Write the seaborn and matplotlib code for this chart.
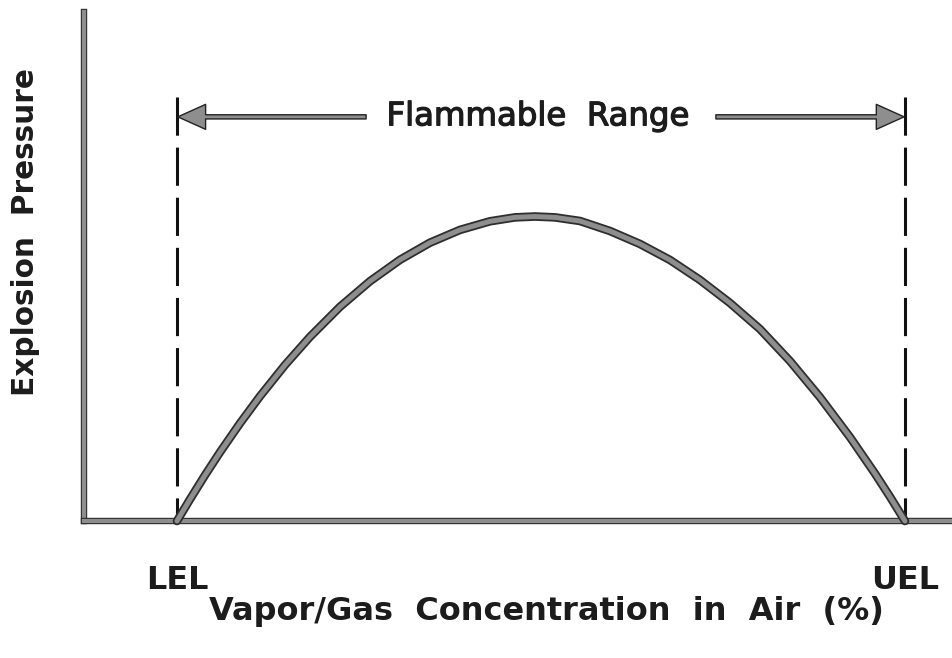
import matplotlib
matplotlib.use("Agg")
import matplotlib.pyplot as plt
import matplotlib.patheffects as pe
import pandas as pd
import seaborn as sns

# Values (axis spans 0-100 in both directions)
concentration = [10.71, 12.21, 13.94, 15.67, 17.97, 20.28, 23.16, 26.04, 29.49, 32.95,
                 36.41, 39.86, 43.32, 46.77, 49.65, 51.96, 54.26, 57.14, 60.60, 64.06,
                 67.51, 70.97, 74.42, 77.88, 81.34, 84.79, 88.25, 91.13, 92.86, 94.58]
pressure = [0.0, 4.26, 9.00, 13.52, 19.19, 24.52, 30.65, 36.19, 42.08, 47.11,
            51.32, 54.68, 57.19, 58.88, 59.65, 59.82, 59.65, 58.94, 56.97, 54.42,
            51.28, 47.35, 42.83, 37.70, 31.41, 24.32, 16.46, 9.31, 4.75, 0.0]
limits = [10.71, 94.58]
limit_labels = ["LEL", "UEL"]
range_label = "Flammable  Range"
x_label = "Vapor/Gas  Concentration  in  Air  (%)"
y_label = "Explosion  Pressure"

df = pd.DataFrame({"conc": concentration, "pressure": pressure})

sns.set_style("white")
INK = "#1c1c1c"
FILL = "#8e8e8e"
outline = [pe.Stroke(linewidth=6.2, foreground="#2e2e2e"), pe.Normal()]

fig = plt.figure(figsize=(9.52, 6.58), dpi=100)
ax = fig.add_axes([84 / 952, 137 / 658, 868 / 952, 509 / 658])

# the curve
sns.lineplot(data=df, x="conc", y="pressure", ax=ax, color=FILL, linewidth=3.6,
             sort=False, clip_on=False, zorder=4, path_effects=outline,
             solid_joinstyle="round", solid_capstyle="round")

# LEL / UEL dashed markers
dash_top = 83.3
for x in limits:
    ax.plot([x, x], [dash_top, 0], color="#111111", linewidth=2.2,
            dashes=(12.5, 3.9), dash_capstyle="butt", zorder=3)

# flammable range arrows + label
arrow_y = 79.4
mid = 52.3
arrow_kw = dict(arrowstyle="simple,head_length=1.0,head_width=0.9,tail_width=0.15",
                fc=FILL, ec="#222222", lw=1.0, mutation_scale=20,
                shrinkA=0, shrinkB=0)
ax.annotate("", xy=(limits[0] + 0.1, arrow_y), xytext=(32.5, arrow_y), arrowprops=arrow_kw)
ax.annotate("", xy=(limits[1] - 0.1, arrow_y), xytext=(72.8, arrow_y), arrowprops=arrow_kw)
ax.text(mid, arrow_y, range_label, ha="center", va="center", fontsize=23.3,
        color=INK, path_effects=[pe.withStroke(linewidth=0.9, foreground=INK)])

ax.set_xlim(0, 100)
ax.set_ylim(0, 100)
ax.set_yticks([])
ax.set_xticks(limits, limit_labels)
ax.tick_params(axis="x", length=0, pad=32, labelsize=23, labelcolor=INK)
for lab in ax.get_xticklabels():
    lab.set_fontweight("bold")

ax.set_xlabel(x_label, fontsize=23, fontweight="bold", color=INK)
ax.xaxis.set_label_coords(0.533, -0.147)
ax.set_ylabel(y_label, fontsize=21.3, fontweight="bold", color=INK)
ax.yaxis.set_label_coords(-0.051, 0.568)

for side in ["top", "right"]:
    ax.spines[side].set_visible(False)
for side in ["left", "bottom"]:
    sp = ax.spines[side]
    sp.set_color(FILL)
    sp.set_linewidth(3.0)
    sp.set_path_effects([pe.Stroke(linewidth=4.6, foreground="#2e2e2e"), pe.Normal()])
    sp.set_zorder(2)

fig.savefig("out.png", dpi=100)
plt.close(fig)
